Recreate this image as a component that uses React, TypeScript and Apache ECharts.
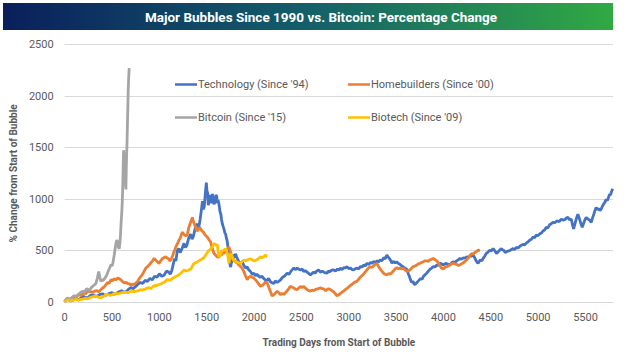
import React, { useEffect, useRef } from "react";
import * as echarts from "echarts";

const chartTitle = "Major Bubbles Since 1990 vs. Bitcoin: Percentage Change";
const seriesNames = [
  "Technology (Since '94)",
  "Homebuilders (Since '00)",
  "Bitcoin (Since '15)",
  "Biotech (Since '09)",
];
const seriesColors = ["#4472C4", "#ED7D31", "#A5A5A5", "#FFC000"];
const xAxisTitle = "Trading Days from Start of Bubble";
const yAxisTitle = "% Change from Start of Bubble";

// [trading day, % change]
const technology: [number, number][] = [
  [0, 0], [20, 30], [40, 25], [60, 10], [80, 15], [100, 30], [120, 35], [140, 20], [160, 30],
  [180, 45], [200, 55], [225, 40], [250, 45], [275, 65], [300, 70], [325, 55], [350, 60],
  [375, 75], [400, 80], [425, 65], [450, 70], [475, 85], [500, 90], [525, 75], [550, 85],
  [575, 100], [600, 110], [625, 95], [650, 100], [675, 125], [700, 140], [725, 130], [750, 150],
  [775, 175], [800, 190], [825, 180], [850, 210], [875, 200], [900, 230], [925, 215], [950, 250],
  [975, 240], [1000, 275], [1025, 250], [1050, 260], [1075, 300], [1100, 290], [1115, 270],
  [1130, 300], [1145, 360], [1160, 420], [1175, 400], [1190, 500], [1205, 520], [1220, 480],
  [1240, 520], [1260, 570], [1275, 530], [1290, 550], [1310, 620], [1330, 660], [1345, 610],
  [1360, 640], [1380, 720], [1400, 760], [1415, 720], [1430, 800], [1445, 900], [1455, 980],
  [1465, 900], [1475, 930], [1485, 1050], [1496, 1160], [1503, 1080], [1510, 1060], [1517, 940],
  [1524, 980], [1535, 1040], [1545, 1010], [1552, 960], [1560, 1050], [1568, 1000], [1577, 950],
  [1590, 980], [1597, 1040], [1605, 1030], [1612, 960], [1620, 990], [1630, 950], [1640, 880],
  [1650, 850], [1657, 800], [1665, 760], [1675, 730], [1685, 700], [1692, 670], [1700, 660],
  [1708, 620], [1715, 600], [1725, 535], [1732, 470], [1740, 420], [1747, 360], [1753, 340],
  [1760, 380], [1770, 400], [1780, 440], [1790, 460], [1798, 430], [1805, 470], [1815, 440],
  [1825, 420], [1840, 390], [1858, 376], [1875, 390], [1890, 360], [1910, 330], [1928, 340],
  [1945, 310], [1960, 300], [1980, 270], [1998, 280], [2015, 255], [2030, 270], [2050, 250],
  [2068, 240], [2085, 250], [2100, 230], [2120, 215], [2139, 210], [2155, 230], [2170, 200],
  [2190, 185], [2209, 180], [2225, 205], [2244, 190], [2260, 200], [2280, 215], [2300, 240],
  [2320, 250], [2335, 265], [2349, 280], [2370, 270], [2390, 300], [2405, 315], [2420, 330],
  [2440, 315], [2455, 330], [2470, 320], [2490, 310], [2510, 320], [2524, 296], [2540, 305],
  [2560, 290], [2580, 275], [2595, 264], [2610, 275], [2630, 290], [2645, 280], [2660, 300],
  [2682, 312], [2700, 290], [2720, 300], [2745, 285], [2771, 280], [2785, 300], [2800, 295],
  [2820, 310], [2840, 312], [2860, 300], [2880, 320], [2895, 310], [2911, 328], [2930, 315],
  [2950, 335], [2965, 330], [2981, 344], [3000, 325], [3020, 330], [3035, 315], [3051, 312],
  [3070, 325], [3090, 330], [3105, 320], [3121, 344], [3140, 340], [3160, 360], [3175, 350],
  [3192, 376], [3210, 365], [3230, 385], [3245, 375], [3261, 392], [3280, 385], [3300, 400],
  [3315, 390], [3332, 408], [3350, 400], [3370, 430], [3385, 420], [3402, 456], [3415, 440],
  [3430, 420], [3445, 400], [3455, 376], [3470, 395], [3490, 380], [3505, 390], [3524, 376],
  [3540, 365], [3560, 350], [3578, 340], [3595, 328], [3610, 320], [3620, 300], [3630, 270],
  [3640, 250], [3652, 215], [3665, 190], [3678, 200], [3690, 175], [3700, 169], [3715, 185],
  [3730, 200], [3745, 215], [3760, 230], [3775, 220], [3787, 248], [3805, 265], [3823, 280],
  [3840, 300], [3860, 320], [3875, 330], [3893, 344], [3910, 340], [3930, 360], [3945, 355],
  [3963, 376], [3980, 370], [3998, 360], [4015, 370], [4030, 375], [4050, 365], [4068, 360],
  [4085, 380], [4100, 390], [4120, 385], [4139, 400], [4155, 410], [4174, 424], [4190, 415],
  [4210, 430], [4225, 425], [4244, 440], [4260, 430], [4280, 450], [4297, 445], [4314, 456],
  [4330, 430], [4345, 400], [4355, 385], [4366, 376], [4378, 395], [4390, 410], [4405, 400],
  [4419, 424], [4435, 445], [4450, 470], [4470, 485], [4489, 504], [4505, 495], [4524, 520],
  [4540, 500], [4560, 471], [4575, 485], [4590, 500], [4600, 510], [4612, 519], [4625, 505],
  [4640, 500], [4652, 480], [4665, 488], [4680, 495], [4700, 500], [4718, 510], [4735, 519],
  [4750, 510], [4770, 530], [4788, 525], [4805, 540], [4820, 550], [4840, 560], [4858, 555],
  [4876, 574], [4893, 585], [4910, 600], [4928, 610], [4945, 631], [4962, 625], [4980, 650],
  [4998, 645], [5016, 662], [5035, 670], [5050, 690], [5068, 700], [5086, 727], [5102, 720],
  [5120, 750], [5138, 760], [5156, 774], [5175, 770], [5200, 790], [5222, 780], [5244, 806],
  [5262, 795], [5280, 800], [5297, 815], [5314, 822], [5330, 800], [5349, 806], [5360, 760],
  [5374, 710], [5388, 760], [5400, 800], [5410, 830], [5419, 854], [5432, 820], [5445, 780],
  [5455, 750], [5465, 727], [5478, 760], [5490, 790], [5507, 822], [5520, 810], [5535, 800],
  [5548, 790], [5560, 774], [5575, 820], [5590, 860], [5600, 890], [5612, 918], [5625, 900],
  [5640, 905], [5652, 890], [5665, 902], [5678, 930], [5690, 950], [5705, 970], [5718, 997],
  [5730, 985], [5740, 1010], [5753, 1045], [5762, 1040], [5770, 1060], [5780, 1085], [5787, 1100],
];

const homebuilders: [number, number][] = [
  [0, 0], [20, 20], [40, 30], [60, 25], [80, 45], [103, 57], [125, 50], [150, 70], [175, 65],
  [200, 90], [222, 80], [244, 105], [265, 100], [290, 95], [315, 105], [340, 110], [360, 100],
  [384, 121], [400, 135], [420, 150], [437, 170], [455, 190], [470, 180], [490, 217], [505, 205],
  [520, 225], [540, 215], [560, 232], [580, 225], [600, 210], [615, 195], [630, 185], [650, 190],
  [670, 175], [685, 180], [700, 160], [718, 175], [735, 169], [752, 185], [770, 200], [788, 230],
  [805, 248], [822, 270], [840, 300], [858, 330], [875, 344], [892, 360], [910, 380], [928, 400],
  [945, 424], [958, 410], [970, 400], [985, 385], [998, 376], [1014, 400], [1030, 420],
  [1048, 430], [1068, 440], [1085, 425], [1100, 420], [1110, 400], [1121, 408], [1140, 450],
  [1160, 500], [1176, 540], [1192, 567], [1206, 600], [1220, 620], [1232, 650], [1244, 679],
  [1256, 660], [1270, 650], [1284, 640], [1297, 662], [1310, 720], [1325, 760], [1337, 790],
  [1349, 822], [1357, 790], [1365, 770], [1375, 745], [1384, 727], [1397, 690], [1410, 700],
  [1423, 725], [1437, 710], [1450, 690], [1465, 680], [1477, 660], [1489, 647], [1502, 635],
  [1515, 620], [1528, 600], [1542, 583], [1550, 550], [1560, 520], [1568, 495], [1577, 471],
  [1588, 460], [1600, 450], [1615, 435], [1630, 440], [1645, 455], [1660, 460], [1670, 480],
  [1682, 471], [1696, 490], [1710, 510], [1722, 520], [1735, 535], [1748, 500], [1760, 460],
  [1773, 430], [1787, 408], [1803, 395], [1820, 380], [1840, 360], [1858, 344], [1873, 330],
  [1890, 300], [1908, 260], [1928, 217], [1945, 240], [1960, 250], [1978, 240], [1998, 232],
  [2015, 215], [2030, 200], [2048, 175], [2068, 153], [2085, 160], [2100, 170], [2120, 195],
  [2139, 185], [2155, 145], [2170, 110], [2180, 85], [2191, 57], [2205, 70], [2220, 80],
  [2232, 95], [2244, 105], [2262, 90], [2280, 70], [2297, 85], [2314, 73], [2330, 90],
  [2350, 110], [2367, 130], [2384, 153], [2400, 145], [2419, 137], [2437, 125], [2455, 121],
  [2472, 135], [2490, 150], [2508, 140], [2524, 153], [2542, 135], [2560, 120], [2578, 110],
  [2595, 105], [2612, 115], [2630, 110], [2645, 120], [2660, 125], [2680, 130], [2700, 137],
  [2720, 130], [2740, 125], [2755, 110], [2771, 121], [2788, 130], [2805, 121], [2822, 110],
  [2840, 100], [2858, 80], [2876, 60], [2893, 70], [2910, 80], [2928, 95], [2945, 105],
  [2962, 120], [2980, 130], [2998, 145], [3016, 160], [3033, 170], [3050, 185], [3068, 195],
  [3086, 200], [3103, 220], [3120, 240], [3138, 255], [3156, 270], [3173, 290], [3190, 310],
  [3208, 330], [3226, 344], [3243, 335], [3261, 350], [3280, 365], [3297, 376], [3315, 345],
  [3332, 320], [3350, 300], [3366, 280], [3384, 270], [3402, 264], [3420, 275], [3437, 270],
  [3453, 285], [3470, 300], [3488, 320], [3507, 335], [3523, 320], [3540, 330], [3558, 320],
  [3577, 328], [3595, 310], [3612, 300], [3630, 305], [3647, 312], [3665, 330], [3682, 344],
  [3700, 350], [3718, 360], [3735, 370], [3753, 376], [3770, 385], [3787, 392], [3805, 400],
  [3823, 400], [3840, 395], [3858, 410], [3875, 415], [3893, 424], [3912, 410], [3930, 400],
  [3945, 380], [3963, 350], [3980, 330], [3998, 320], [4015, 335], [4034, 344], [4050, 350],
  [4068, 360], [4085, 370], [4103, 376], [4120, 370], [4140, 365], [4157, 355], [4174, 360],
  [4190, 370], [4208, 380], [4226, 395], [4244, 408], [4262, 430], [4279, 450], [4297, 471],
  [4313, 465], [4330, 480], [4348, 490], [4366, 504], [4385, 500],
];

const bitcoin: [number, number][] = [
  [0, 0], [15, 20], [30, 40], [45, 30], [60, 20], [80, 45], [100, 60], [120, 55], [140, 70],
  [165, 90], [191, 105], [205, 95], [220, 110], [232, 130], [244, 124], [257, 115], [270, 120],
  [283, 140], [297, 153], [313, 165], [330, 180], [345, 230], [360, 296], [372, 240], [384, 200],
  [397, 215], [410, 210], [423, 230], [437, 248], [448, 270], [460, 300], [475, 330], [489, 363],
  [500, 350], [510, 380], [517, 420], [524, 459], [532, 510], [540, 560], [547, 590], [553, 602],
  [559, 570], [565, 540], [571, 525], [577, 519], [584, 580], [590, 650], [595, 746], [600, 820],
  [605, 900], [609, 980], [612, 1061], [615, 1180], [618, 1300], [621, 1420], [623, 1475],
  [627, 1420], [630, 1380], [634, 1360], [637, 1348], [640, 1250], [643, 1150], [647, 1093],
  [651, 1300], [655, 1444], [658, 1520], [660, 1600], [664, 1760], [668, 1922], [671, 2040],
  [675, 2150], [679, 2230], [682, 2272],
];

const biotech: [number, number][] = [
  [0, 0], [20, 15], [40, 20], [60, 10], [80, 15], [100, 20], [120, 25], [145, 20], [174, 26],
  [197, 30], [220, 35], [245, 30], [270, 45], [292, 50], [314, 57], [332, 55], [350, 50],
  [367, 45], [384, 40], [402, 50], [420, 60], [437, 70], [455, 73], [478, 65], [500, 70],
  [520, 80], [540, 85], [568, 80], [595, 89], [618, 95], [640, 95], [665, 90], [690, 100],
  [712, 105], [735, 100], [758, 105], [780, 110], [800, 120], [820, 115], [848, 125], [875, 137],
  [893, 140], [910, 130], [928, 145], [945, 160], [962, 155], [980, 165], [998, 170], [1016, 175],
  [1033, 185], [1050, 190], [1068, 205], [1086, 220], [1103, 210], [1121, 215], [1140, 230],
  [1160, 240], [1175, 250], [1190, 255], [1208, 265], [1226, 280], [1243, 295], [1261, 312],
  [1276, 305], [1290, 300], [1311, 310], [1332, 320], [1350, 350], [1366, 376], [1383, 380],
  [1400, 390], [1418, 400], [1437, 410], [1453, 420], [1470, 430], [1488, 455], [1507, 480],
  [1520, 500], [1535, 510], [1548, 525], [1560, 535], [1570, 555], [1580, 570], [1588, 560],
  [1595, 567], [1604, 545], [1612, 560], [1620, 500], [1630, 440], [1638, 450], [1647, 460],
  [1656, 490], [1665, 504], [1675, 495], [1685, 510], [1692, 500], [1700, 519], [1710, 500],
  [1720, 470], [1728, 420], [1735, 376], [1744, 430], [1753, 470], [1762, 455], [1770, 440],
  [1778, 420], [1787, 400], [1803, 385], [1820, 390], [1840, 380], [1858, 376], [1875, 395],
  [1893, 408], [1910, 400], [1928, 408], [1945, 415], [1960, 420], [1980, 410], [1998, 400],
  [2015, 405], [2030, 410], [2050, 425], [2068, 440], [2085, 430], [2103, 440], [2112, 450],
  [2121, 456], [2130, 445], [2139, 440],
];

const allSeries = [technology, homebuilders, bitcoin, biotech];
const legendPositions = [
  { left: 170, top: 74 },
  { left: 343, top: 74 },
  { left: 170, top: 107 },
  { left: 343, top: 107 },
];

const FONT = "Roboto, 'Liberation Sans', sans-serif";

export default function App() {
  const ref = useRef<HTMLDivElement>(null);
  useEffect(() => {
    if (!ref.current) return;
    const chart = echarts.init(ref.current, undefined, { renderer: "svg" });
    chart.setOption({
      animation: false,
      backgroundColor: "#ffffff",
      graphic: [
        {
          type: "rect",
          shape: { x: 3, y: 3, width: 610, height: 27 },
          style: {
            fill: new echarts.graphic.LinearGradient(0, 0, 1, 0, [
              { offset: 0, color: "#0a1f5c" },
              { offset: 0.5, color: "#145f6a" },
              { offset: 1, color: "#31a943" },
            ]),
          },
          z: 10,
        },
        {
          type: "text",
          x: 321,
          y: 16.5,
          style: {
            text: chartTitle,
            fill: "#ffffff",
            align: "center",
            verticalAlign: "middle",
            fontSize: 13.5,
            fontWeight: "bold",
            fontFamily: FONT,
          },
          z: 11,
        },
      ],
      legend: seriesNames.map((name, i) => ({
        data: [name],
        left: legendPositions[i].left,
        top: legendPositions[i].top,
        icon: "rect",
        itemWidth: 22,
        itemHeight: 2.5,
        itemGap: 0,
        textStyle: {
          color: "#595959",
          fontSize: 11,
          fontFamily: FONT,
          padding: [0, 0, 0, -4],
        },
      })),
      grid: { left: 63.5, right: 13, top: 44.7, bottom: 46, containLabel: false },
      xAxis: {
        type: "value",
        min: 0,
        max: 5790,
        interval: 500,
        name: xAxisTitle,
        nameLocation: "middle",
        nameGap: 35,
        nameTextStyle: { color: "#595959", fontSize: 10, fontWeight: "bold", fontFamily: FONT },
        axisLine: { show: true, lineStyle: { color: "#d9d9d9", width: 1 } },
        axisTick: { show: false },
        splitLine: { show: false },
        axisLabel: {
          color: "#595959",
          fontSize: 11,
          fontFamily: FONT,
          margin: 10,
          showMaxLabel: false,
          formatter: (v: number) => (v % 500 === 0 ? String(v) : ""),
        },
      },
      yAxis: {
        type: "value",
        min: 0,
        max: 2500,
        interval: 500,
        name: yAxisTitle,
        nameLocation: "middle",
        nameGap: 45,
        nameTextStyle: { color: "#595959", fontSize: 10, fontWeight: "bold", fontFamily: FONT },
        axisLine: { show: false },
        axisTick: { show: false },
        splitLine: { lineStyle: { color: "#d9d9d9", width: 1 } },
        axisLabel: {
          color: "#595959",
          fontSize: 11,
          fontFamily: FONT,
          margin: 11,
          formatter: (v: number) => String(v),
        },
      },
      series: allSeries.map((data, i) => ({
        name: seriesNames[i],
        type: "line",
        data,
        showSymbol: false,
        symbol: "none",
        color: seriesColors[i],
        lineStyle: { color: seriesColors[i], width: 2.8 },
        z: 2 + i,
      })),
    });
    return () => chart.dispose();
  }, []);
  return (
    <div
      ref={ref}
      style={{ position: "fixed", left: 0, top: 0, width: 626, height: 352, background: "#fff" }}
    />
  );
}
